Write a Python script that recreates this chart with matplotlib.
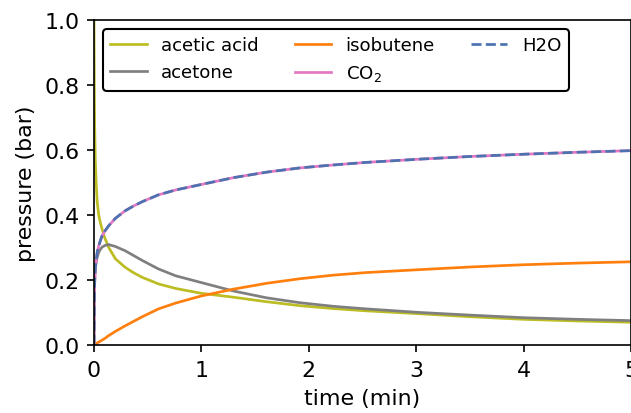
import matplotlib
matplotlib.use("Agg")
import matplotlib.pyplot as plt

plt.rcParams["font.size"] = 10.6

time_min = [0, 0.003, 0.006, 0.012, 0.02, 0.03, 0.044, 0.06, 0.075, 0.1, 0.137, 0.2,
            0.29, 0.37, 0.45, 0.6, 0.76, 1.0, 1.3, 1.61, 1.92, 2.23, 2.54, 3.04,
            3.5, 4.0, 4.5, 5.0]
acetic_acid = [1.0, 0.80, 0.68, 0.57, 0.50, 0.44, 0.40, 0.375, 0.357, 0.33, 0.30, 0.265,
               0.239, 0.222, 0.208, 0.188, 0.174, 0.159, 0.147, 0.133, 0.121, 0.112, 0.105, 0.096,
               0.087, 0.079, 0.074, 0.070]
acetone = [0, 0.15, 0.20, 0.235, 0.255, 0.27, 0.285, 0.295, 0.301, 0.306, 0.309, 0.303,
           0.29, 0.275, 0.26, 0.234, 0.213, 0.192, 0.166, 0.145, 0.130, 0.119, 0.111, 0.100,
           0.092, 0.084, 0.079, 0.075]
isobutene = [0, 0.0005, 0.001, 0.002, 0.004, 0.006, 0.009, 0.012, 0.015, 0.02, 0.029, 0.042,
             0.059, 0.073, 0.087, 0.111, 0.129, 0.151, 0.172, 0.19, 0.204, 0.215, 0.223, 0.232,
             0.240, 0.247, 0.252, 0.256]
co2 = [0, 0.15, 0.19, 0.234, 0.26, 0.285, 0.305, 0.322, 0.336, 0.35, 0.367, 0.39,
       0.413, 0.428, 0.441, 0.462, 0.477, 0.494, 0.515, 0.532, 0.545, 0.554, 0.562, 0.572,
       0.58, 0.587, 0.593, 0.598]
h2o = list(co2)

dpi = 150
fig = plt.figure(figsize=(632 / dpi, 414 / dpi), dpi=dpi)
ax = fig.add_axes([94/632, (414-346)/414, 537/632, 325/414])

lw = 1.3
ax.plot(time_min, acetic_acid, color="#bcbd22", lw=lw, label="acetic acid")
ax.plot(time_min, acetone, color="#7f7f7f", lw=lw, label="acetone")
ax.plot(time_min, isobutene, color="#ff7f0e", lw=lw, label="isobutene")
ax.plot(time_min, co2, color="#e377c2", lw=lw, label="CO$_2$")
ax.plot(time_min, h2o, color="#4c72b0", lw=lw, linestyle="--", label="H2O")

ax.set_xlim(0, 5)
ax.set_ylim(0, 1)
ax.set_xticks([0, 1, 2, 3, 4, 5])
ax.set_yticks([0, 0.2, 0.4, 0.6, 0.8, 1.0])
ax.set_xlabel("time (min)")
ax.set_ylabel("pressure (bar)")
leg = ax.legend(ncol=3, fontsize=8.7, loc="upper left", frameon=True, fancybox=True,
                edgecolor="black", framealpha=1)

fig.savefig("out.png", dpi=dpi)
